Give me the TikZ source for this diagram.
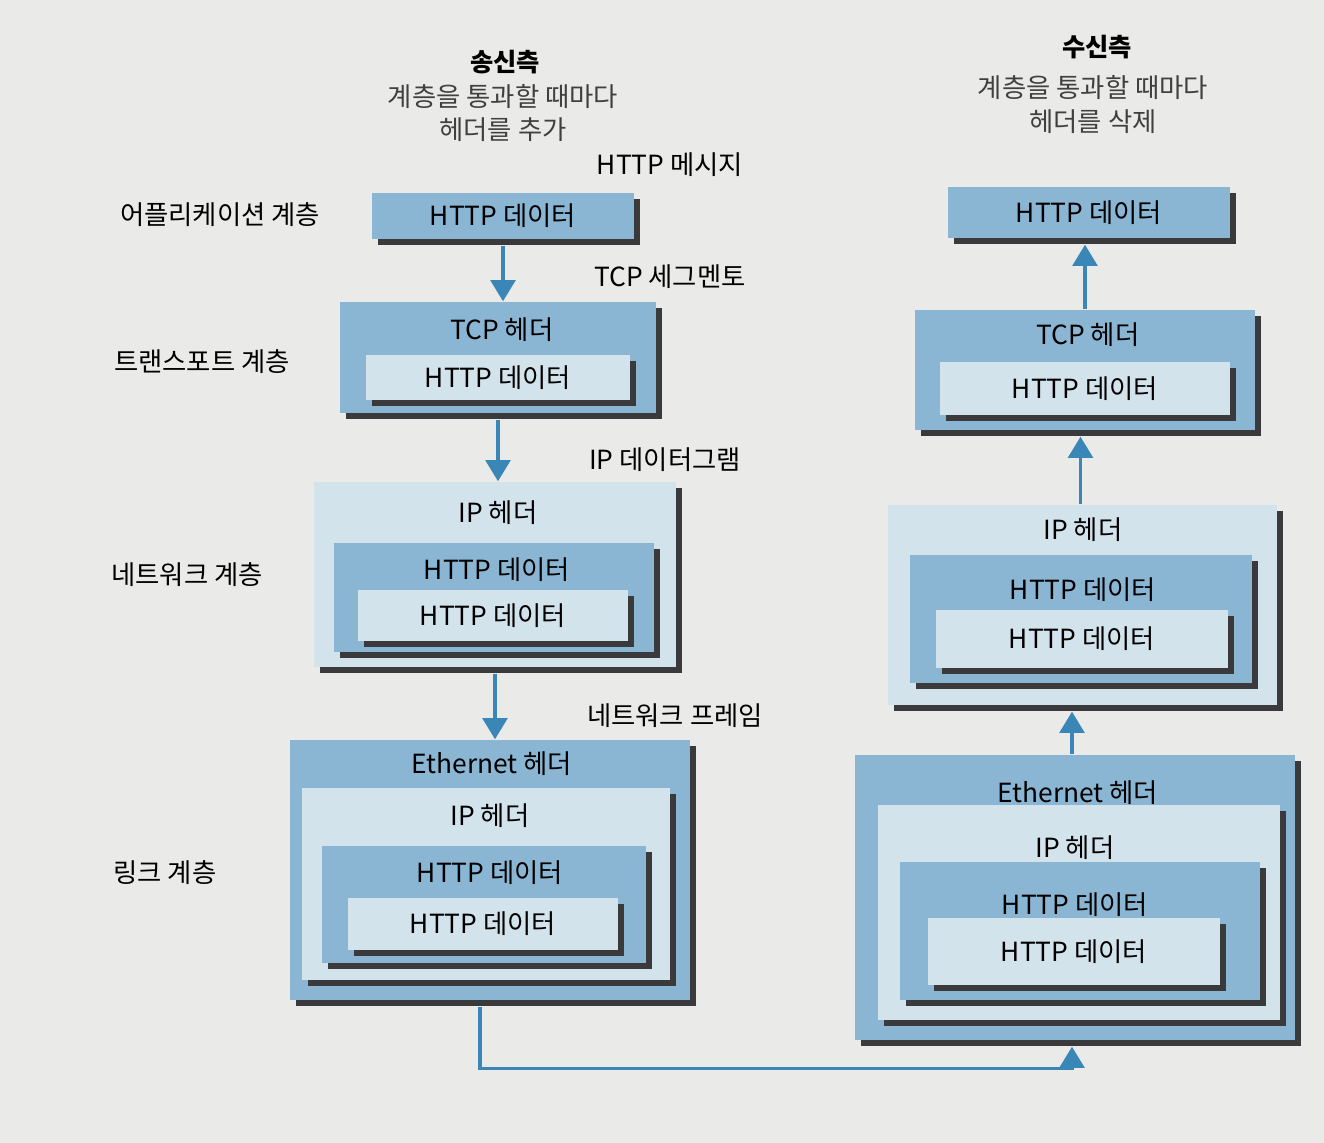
\documentclass[tikz,border=0pt]{standalone}
\usepackage{fontspec}
\setmainfont{Noto Sans CJK KR}
\usetikzlibrary{arrows.meta,shadows}
\definecolor{boxdark}{HTML}{8AB6D4}
\definecolor{boxlight}{HTML}{D3E3EC}
\definecolor{shadowgray}{HTML}{3A3A3C}
\definecolor{flowblue}{HTML}{3A87B7}
\definecolor{paper}{HTML}{EAEAE8}
\tikzset{
  pdu/.style={inner sep=0pt, font=\fontsize{7.5}{9}\selectfont,
    drop shadow={shadow xshift=0.06cm, shadow yshift=-0.06cm, fill=shadowgray, opacity=1}},
  darkpdu/.style={pdu, fill=boxdark},
  lightpdu/.style={pdu, fill=boxlight},
  txt/.style={font=\fontsize{7.5}{9}\selectfont},
  subtxt/.style={font=\fontsize{7.5}{9}\selectfont, text=black!75},
  flow/.style={-{Triangle[width=7pt,length=6pt]}, line width=1pt, draw=flowblue},
}
\begin{document}
\begin{tikzpicture}
    \useasboundingbox[fill=paper] (0,0) rectangle (13.24,-11.43);

    % Headings
    \node[txt, font=\fontsize{7.2}{8}\selectfont\bfseries] (sTitle) at (5.05,-0.62) {송신측};
    \node[subtxt] (sNote1) at (5.03,-0.97) {계층을 통과할 때마다};
    \node[subtxt] (sNote2) at (5.03,-1.30) {헤더를 추가};
    \node[txt, font=\fontsize{7.2}{8}\selectfont\bfseries] (rTitle) at (10.97,-0.47) {수신측};
    \node[subtxt] (rNote1) at (10.93,-0.88) {계층을 통과할 때마다};
    \node[subtxt] (rNote2) at (10.93,-1.22) {헤더를 삭제};

    % Layer names
    \node[txt] (lApp) at (2.20,-2.15) {어플리케이션 계층};
    \node[txt] (lTrans) at (2.02,-3.62) {트랜스포트 계층};
    \node[txt] (lNet) at (1.87,-5.75) {네트워크 계층};
    \node[txt] (lLink) at (1.65,-8.73) {링크 계층};

    % Unit names
    \node[txt] (uMsg) at (6.70,-1.65) {HTTP 메시지};
    \node[txt] (uSeg) at (6.70,-2.77) {TCP 세그멘토};
    \node[txt] (uDgram) at (6.65,-4.60) {IP 데이터그램};
    \node[txt] (uFrame) at (6.75,-7.16) {네트워크 프레임};

    % Sender: application
    \node[darkpdu, minimum width=2.62cm, minimum height=0.46cm] (sApp) at (5.03,-2.16) {HTTP 데이터};

    % Sender: transport
    \node[darkpdu, minimum width=3.16cm, minimum height=1.11cm] (sTcp) at (4.98,-3.575) {};
    \node[txt] (sTcpHdr) at (5.02,-3.30) {TCP 헤더};
    \node[lightpdu, minimum width=2.64cm, minimum height=0.45cm] (sTcpData) at (4.98,-3.775) {HTTP 데이터};

    % Sender: network
    \node[lightpdu, minimum width=3.62cm, minimum height=1.85cm] (sIp) at (4.95,-5.745) {};
    \node[txt] (sIpHdr) at (4.98,-5.13) {IP 헤더};
    \node[darkpdu, minimum width=3.20cm, minimum height=1.09cm] (sIpTcp) at (4.94,-5.975) {};
    \node[txt] (sIpTcpHdr) at (4.97,-5.70) {HTTP 데이터};
    \node[lightpdu, minimum width=2.70cm, minimum height=0.51cm] (sIpData) at (4.93,-6.155) {HTTP 데이터};

    % Sender: link
    \node[darkpdu, minimum width=4.00cm, minimum height=2.60cm] (sEth) at (4.90,-8.70) {};
    \node[txt] (sEthHdr) at (4.92,-7.64) {Ethernet 헤더};
    \node[lightpdu, minimum width=3.68cm, minimum height=1.92cm] (sEthIp) at (4.86,-8.84) {};
    \node[txt] (sEthIpHdr) at (4.90,-8.16) {IP 헤더};
    \node[darkpdu, minimum width=3.24cm, minimum height=1.17cm] (sEthTcp) at (4.84,-9.045) {};
    \node[txt] (sEthTcpHdr) at (4.90,-8.73) {HTTP 데이터};
    \node[lightpdu, minimum width=2.70cm, minimum height=0.52cm] (sEthData) at (4.83,-9.24) {HTTP 데이터};

    % Receiver: application
    \node[darkpdu, minimum width=2.82cm, minimum height=0.51cm] (rApp) at (10.89,-2.125) {HTTP 데이터};

    % Receiver: transport
    \node[darkpdu, minimum width=3.40cm, minimum height=1.20cm] (rTcp) at (10.85,-3.70) {};
    \node[txt] (rTcpHdr) at (10.88,-3.35) {TCP 헤더};
    \node[lightpdu, minimum width=2.90cm, minimum height=0.53cm] (rTcpData) at (10.85,-3.885) {HTTP 데이터};

    % Receiver: network
    \node[lightpdu, minimum width=3.89cm, minimum height=2.00cm] (rIp) at (10.825,-6.05) {};
    \node[txt] (rIpHdr) at (10.83,-5.30) {IP 헤더};
    \node[darkpdu, minimum width=3.42cm, minimum height=1.28cm] (rIpTcp) at (10.81,-6.19) {};
    \node[txt] (rIpTcpHdr) at (10.83,-5.90) {HTTP 데이터};
    \node[lightpdu, minimum width=2.92cm, minimum height=0.58cm] (rIpData) at (10.82,-6.39) {HTTP 데이터};

    % Receiver: link
    \node[darkpdu, minimum width=4.40cm, minimum height=2.85cm] (rEth) at (10.75,-8.975) {};
    \node[txt] (rEthHdr) at (10.78,-7.93) {Ethernet 헤더};
    \node[lightpdu, minimum width=4.02cm, minimum height=2.15cm] (rEthIp) at (10.79,-9.125) {};
    \node[txt] (rEthIpHdr) at (10.75,-8.48) {IP 헤더};
    \node[darkpdu, minimum width=3.60cm, minimum height=1.38cm] (rEthTcp) at (10.80,-9.31) {};
    \node[txt] (rEthTcpHdr) at (10.75,-9.05) {HTTP 데이터};
    \node[lightpdu, minimum width=2.92cm, minimum height=0.67cm] (rEthData) at (10.74,-9.515) {HTTP 데이터};

    % Flow down, across, up
    \draw[flow] ([yshift=-0.06cm]sApp.south) -- (sApp.south |- sTcp.north);
    \draw[flow] ([yshift=-0.06cm]sTcp.south) -- (sTcp.south |- sIp.north);
    \draw[flow] ([yshift=-0.06cm]sIp.south) -- (sIp.south |- sEth.north);
    \draw[flow] ([xshift=-0.10cm, yshift=-0.06cm]sEth.south) -- ++(0,-0.62) -| ([xshift=-0.03cm, yshift=-0.06cm]rEth.south);
    \draw[flow] ([xshift=-0.03cm]rEth.north) -- ([xshift=-0.03cm, yshift=-0.06cm]rEth.north |- rIp.south);
    \draw[flow] ([xshift=-0.02cm]rIp.north) -- ([xshift=-0.02cm, yshift=-0.06cm]rIp.north |- rTcp.south);
    \draw[flow] (rTcp.north) -- ([yshift=-0.06cm]rTcp.north |- rApp.south);
\end{tikzpicture}
\end{document}
